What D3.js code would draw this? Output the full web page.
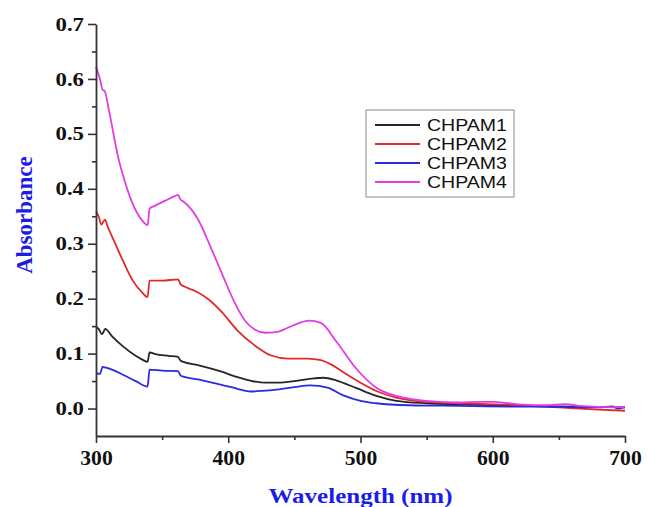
<!DOCTYPE html>
<html>
<head>
<meta charset="utf-8">
<script src="https://cdn.jsdelivr.net/npm/d3@7"></script>
<style>
  body { margin: 0; background: #fff; }
  svg { display: block; }
</style>
</head>
<body>
<script>
// UV-vis spectra, values
var seriesNames = ["CHPAM1", "CHPAM2", "CHPAM3", "CHPAM4"];
var seriesColors = ["#262626", "#e02a2a", "#2a2ae0", "#e23ce6"];

var chpam1 = [[300,0.149],[302,0.145],[304.5,0.135],[307,0.145],[312,0.132],[320,0.114],[330,0.096],[335,0.089],[339,0.085],[340.5,0.102],[345,0.099],[355,0.096],[362,0.094],[364,0.087],[366,0.085],[377,0.079],[395,0.067],[407,0.057],[418,0.050],[428,0.047],[438,0.047],[450,0.050],[465,0.055],[472,0.056],[482,0.051],[497,0.037],[512,0.023],[527,0.014],[550,0.0096],[575,0.0078],[600,0.006],[625,0.005],[650,0.004],[675,0.003],[700,0.002]];
var chpam2 = [[300,0.358],[302,0.350],[304,0.335],[306.8,0.344],[309,0.330],[312,0.314],[320,0.271],[327,0.236],[335,0.211],[339,0.203],[340.5,0.233],[350,0.233],[362,0.235],[364,0.226],[366,0.223],[375,0.214],[385,0.199],[395,0.176],[407,0.142],[420,0.115],[432,0.097],[445,0.091],[460,0.091],[470,0.088],[478,0.080],[487,0.066],[500,0.047],[512,0.032],[527,0.020],[550,0.012],[575,0.0096],[612,0.0066],[650,0.002],[680,-0.002],[700,-0.004]];
var chpam3 = [[300,0.065],[303,0.063],[305,0.076],[306.5,0.075],[312,0.071],[320,0.062],[330,0.050],[339,0.040],[340.5,0.071],[350,0.069],[362,0.068],[364,0.060],[366,0.058],[377,0.053],[395,0.043],[407,0.036],[417,0.031],[424,0.032],[435,0.034],[450,0.039],[462,0.042],[475,0.038],[487,0.024],[500,0.014],[512,0.0096],[537,0.006],[575,0.0048],[612,0.0036],[650,0.003],[680,0.002],[690,0.004],[695,0.0],[700,0.003]];
var chpam4 = [[300,0.622],[303,0.600],[305,0.580],[306.5,0.578],[310,0.540],[317,0.455],[322,0.412],[327,0.377],[335,0.342],[339,0.334],[340.5,0.364],[343.5,0.368],[352,0.378],[360,0.387],[362,0.389],[364,0.380],[366,0.377],[377,0.345],[387,0.292],[395,0.247],[405,0.192],[413,0.159],[420,0.144],[428,0.138],[436,0.139],[445,0.147],[453,0.155],[461,0.160],[470,0.156],[482,0.121],[497,0.072],[512,0.038],[527,0.023],[550,0.014],[575,0.011],[590,0.012],[600,0.012],[612,0.0096],[622,0.007],[640,0.006],[655,0.008],[665,0.005],[700,0.002]];

var xTicks = [300, 400, 500, 600, 700];
var xMinorTicks = [350, 450, 550, 650];
var yTicks = [0.0, 0.1, 0.2, 0.3, 0.4, 0.5, 0.6, 0.7];
var yMinorTicks = [0.05, 0.15, 0.25, 0.35, 0.45, 0.55, 0.65];

(function(d3) {
  var width = 648;
  var height = 507;
  var margin = { left: 96, right: 23, top: 24, bottom: 71 };
  var serif = "'Liberation Serif', 'Times New Roman', serif";
  var titleBlue = "#1c1ce8";

  var svg = d3.select("body").append("svg").attr("width", width).attr("height", height);

  var x = d3.scaleLinear().domain([300, 700]).range([margin.left, width - margin.right]);
  var y = d3.scaleLinear().domain([-0.05, 0.7]).range([height - margin.bottom, margin.top]);

  // curves
  var line = d3.line().x(function(d) { return x(d[0]); }).y(function(d) { return y(d[1]); })
    .curve(d3.curveMonotoneX);

  var allSeries = [chpam1, chpam2, chpam3, chpam4];
  svg.append("g").selectAll("path").data(allSeries).enter().append("path")
    .attr("d", line).attr("fill", "none")
    .attr("stroke", function(d, i) { return seriesColors[i]; })
    .attr("stroke-width", 1.8).attr("stroke-linejoin", "round");

  // axes
  var xAxis = svg.append("g").attr("transform", "translate(0," + y(-0.05) + ")")
    .call(d3.axisBottom(x).tickValues(xTicks).tickFormat(d3.format("d")).tickSize(7).tickPadding(8).tickSizeOuter(0));
  svg.append("g").attr("transform", "translate(0," + y(-0.05) + ")")
    .call(d3.axisBottom(x).tickValues(xMinorTicks).tickFormat("").tickSize(4).tickSizeOuter(0))
    .select(".domain").remove();

  var yAxis = svg.append("g").attr("transform", "translate(" + x(300) + ",0)")
    .call(d3.axisLeft(y).tickValues(yTicks).tickFormat(d3.format(".1f")).tickSize(8).tickSizeOuter(0));
  svg.append("g").attr("transform", "translate(" + x(300) + ",0)")
    .call(d3.axisLeft(y).tickValues(yMinorTicks).tickFormat("").tickSize(4).tickSizeOuter(0))
    .select(".domain").remove();

  svg.selectAll(".domain").attr("stroke", "#333").attr("stroke-width", 1.8);
  svg.selectAll(".tick line").attr("stroke", "#333").attr("stroke-width", 1.6);

  xAxis.selectAll("text").attr("font-family", serif).attr("font-weight", "bold")
    .attr("font-size", 20).attr("fill", "#111").attr("transform", "scale(1.08,1)");
  yAxis.selectAll("text").attr("font-family", serif).attr("font-weight", "bold")
    .attr("font-size", 19).attr("fill", "#111").attr("x", -12 / 1.2).attr("transform", "scale(1.2,1)");

  // axis titles
  svg.append("text").attr("transform", "translate(32,215) rotate(-90)")
    .attr("text-anchor", "middle").attr("font-family", serif).attr("font-weight", "bold")
    .attr("font-size", 23).attr("fill", titleBlue).text("Absorbance");
  svg.append("text").attr("x", (x(300) + x(700)) / 2).attr("y", 503)
    .attr("text-anchor", "middle").attr("font-family", serif).attr("font-weight", "bold")
    .attr("font-size", 22).attr("fill", titleBlue)
    .attr("textLength", 184).attr("lengthAdjust", "spacingAndGlyphs").text("Wavelength (nm)");

  // legend
  var legend = svg.append("g").attr("transform", "translate(366,110)");
  legend.append("rect").attr("width", 148).attr("height", 87)
    .attr("fill", "#fff").attr("stroke", "#8a8a8a").attr("stroke-width", 1);
  var rows = legend.selectAll("g.row").data(seriesNames).enter().append("g")
    .attr("class", "row").attr("transform", function(d, i) { return "translate(0," + (15 + i * 19) + ")"; });
  rows.append("line").attr("x1", 9).attr("x2", 54).attr("y1", 0).attr("y2", 0)
    .attr("stroke", function(d, i) { return seriesColors[i]; }).attr("stroke-width", 1.8);
  rows.append("text").attr("x", 61).attr("y", 0).attr("dy", "0.36em")
    .attr("font-family", "'Liberation Sans', Arial, sans-serif").attr("font-size", 17)
    .attr("fill", "#111").attr("textLength", 80).attr("lengthAdjust", "spacingAndGlyphs")
    .text(function(d) { return d; });
})(d3);
</script>
</body>
</html>
